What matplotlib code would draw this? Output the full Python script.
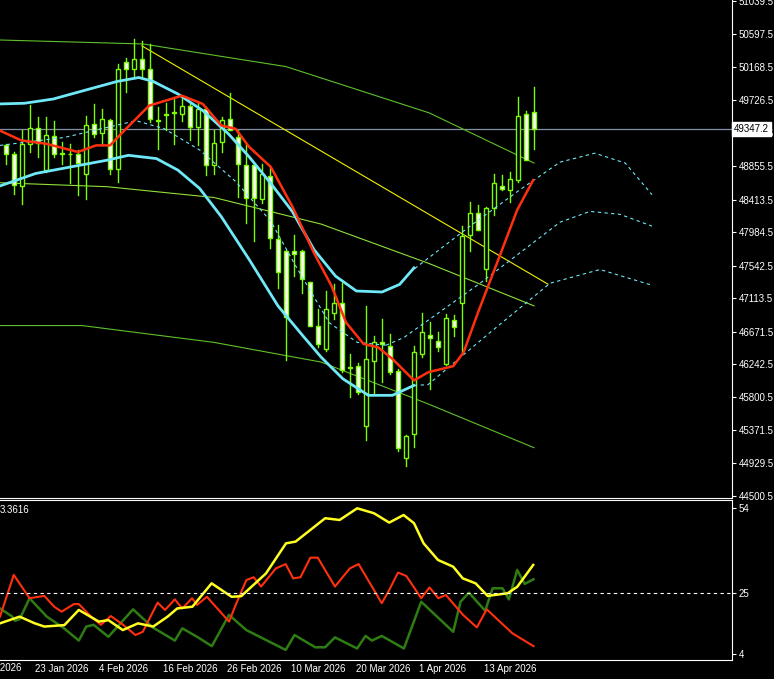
import matplotlib
matplotlib.use("Agg")
import matplotlib.pyplot as plt
from matplotlib.patches import Rectangle

plt.rcParams['font.family'] = ['Liberation Sans', 'DejaVu Sans']

# ---------------- data ----------------
opens  = [49128,49010,48591,49150,49356,48801,49251,49028,49019,49010,48757,49413,49290,49465,48823,50230,50134,50265,50134,49465,
          49544,49565,49544,49653,49369,49609,48866,49172,49478,49238,48866,48866,48416,48722,47892,47730,47739,47739,47328,46738,
          46441,46922,47044,46209,46214,45427,46288,46529,46485,46148,45008,45314,46376,46625,46542,46244,46826,47053,47949,48233,
          47490,48298,48591,48539,48670,49544,49574]
highs  = [49150,49041,49325,49666,49500,49509,49456,49172,49150,49063,49522,49675,49609,49478,50199,50287,50527,50505,50461,49631,
          49684,49762,49762,49697,49697,49631,49325,49509,49815,49325,49150,48888,48888,48844,48080,47752,47949,47752,47330,46965,
          47206,47293,47315,46376,46253,47009,46616,46834,46638,46179,45305,46485,46922,46791,46660,46900,46887,48058,48386,48342,
          48320,48757,48735,48779,49771,49587,49893]
lows   = [48888,48486,48355,49041,48976,48779,48976,48888,48626,48473,48416,49238,49128,48757,48648,49828,50024,50024,49434,49085,
          49325,49150,49456,49194,49128,48735,48757,49041,49325,48451,48110,47861,48364,47774,47249,46297,47402,47184,46740,46463,
          46419,46834,46135,45807,45851,45240,45851,46004,46113,45095,44890,45152,46332,45917,46419,46223,46616,46376,47730,48014,
          47337,48211,48539,48386,48648,48932,49085]
closes = [49010,48604,49150,49356,49163,49268,49019,49019,49010,48901,49399,49281,49478,48823,50134,50134,50265,50134,49478,49456,
          49531,49560,49653,49369,49609,48866,49159,49465,49334,48888,48438,48438,48757,47905,47455,46869,47700,47367,46747,46507,
          46965,47053,46170,46187,45873,46310,46529,46507,46135,45139,45296,46397,46660,46581,46463,46856,46725,47935,48233,48014,
          48298,48626,48547,48678,49522,48932,49347]

ma_x = [-0.8,1.9,5.0,9.0,11.25,13.0,14.8,17.9,20.6,22.0,24.6,26.9,28.7,30.4,33.1,35.8,38.5,40.7,42.5,44.7,46.5,48.3,51.0,52.8,55.9,57.2,59.0,61.7,63.9,65.9]
ma_y = [49325,49194,49150,49041,49128,49128,49325,49653,49740,49784,49675,49391,49347,49107,48844,48320,47708,47271,46791,46507,46463,46310,46026,46135,46214,46397,46922,47665,48276,48670]

up_x = [-0.8,2.3,5.9,10.4,13.9,16.6,18.4,21.5,24.6,27.8,30.4,33.1,35.8,38.5,41.2,43.8,47.0,49.2,51.0]
up_y = [49675,49684,49740,49871,49972,50024,49972,49806,49587,49281,48976,48626,48254,47752,47402,47206,47193,47293,47511]
lo_x = [-0.8,3.7,8.1,12.6,15.3,18.8,21.5,24.2,26.9,30.4,34.0,37.1,39.4,42.1,45.3,48.3,51.0]
lo_y = [48591,48757,48844,48932,48997,48954,48801,48560,48189,47621,47009,46616,46332,46048,45829,45829,45960]
mid_x = [-0.75,7.25,16.25,19.75,24.25,28.75,33.1,36.25,40.4,43.9,47.5]
mid_y = [49128,49232,49454,49350,49064,48647,48127,47530,46788,46528,46490]

fut_up_x = [51.1,58.0,64.25,69.25,73.6,77.4,80.75]
fut_up_y = [47503,48062,48543,48907,49025,48895,48478]
fut_mid_x = [47.5,49.75,59.25,69.25,73.0,76.75,80.75]
fut_mid_y = [46490,46593,47308,48114,48257,48218,48063]
fut_lo_x = [51.0,52.75,60.5,68.0,74.25,80.75]
fut_lo_y = [45960,45970,46658,47308,47490,47282]

ch_x = [-0.75,17.1,35.0,52.9,66.0]
ch_top = [50519,50467,50168,49557,48895]
ch2_x = [-0.75,12.6,26.0,39.4,52.9,66.0]
ch_mid = [48635,48583,48440,48089,47568,47010]
ch3_x = [-0.75,9.5,26.0,39.4,52.9,66.0]
ch_low = [46750,46750,46528,46268,45710,45138]

trend_x = [17.0,67.75]
trend_y = [50441,47296]

last_price = 49347.2
price_ticks = [44500.5,44929.5,45371.5,45800.5,46242.5,46671.5,47113.5,47542.5,47984.5,48413.5,48855.5,49297.5,49726.5,50168.5,50597.5,51039.5]

yel_x = [-0.75,1.7,3.6,4.8,7.3,9.1,11.6,12.8,14.6,16.5,18.4,20.2,21.4,23.3,25.7,28.2,29.4,32.5,35,36.2,39.9,41.7,43.9,46,47.9,49.7,51,52.2,54,55.9,57.1,58.7,60.2,62.7,63.9,65.9]
yel_y = [14.5,16.8,14.5,13.4,13.9,19.1,15.1,15.6,12.2,14.5,13.4,16.8,19.6,20.2,28.2,23.6,23.8,31.6,41.9,42.5,50.5,49.9,53.9,52.2,49,51.6,48.8,41.9,36.2,33.9,29.9,28.2,23.9,24.8,27,34.5]
red_x = [-0.75,0.97,2.94,4.79,6.02,6.95,8.49,9.1,10.64,11.87,13.1,14.64,16.18,17.1,18.95,19.88,21.11,22.03,23.26,23.88,25.11,27.88,28.8,30.04,30.96,31.89,33.73,34.96,35.89,36.81,38.04,38.97,41.12,42.97,44.08,46.97,47.9,49.0,50.05,51.9,52.94,54.05,54.98,57.13,58.86,60.09,63.29,65.94]
red_y = [16.8,31.1,23.1,23.9,20.2,18.5,21.1,21.1,16.8,14.0,17.0,14.0,10.5,11.6,21.6,19.1,22.7,19.6,23.1,20.8,23.6,15.1,21.4,29.3,30.3,27.1,33.3,34.8,29.9,30.3,37.0,37.0,27.1,33.3,34.8,21.4,25.9,31.9,30.7,23.1,26.8,23.1,24.2,17.4,13.1,19.3,11.1,6.7]
grn_x = [-0.75,0.79,1.1,1.71,2.94,5.1,7.26,9.1,10.03,10.95,12.8,15.88,18.34,21.11,22.03,23.88,25.73,27.88,30.04,32.5,34.96,36.07,38.66,39.89,41.12,43.89,44.94,45.74,46.97,49.74,51.9,55.9,56.82,57.87,59.9,60.83,62.06,62.86,63.9,64.83,65.94]
grn_y = [19.6,16.8,15.4,15.9,23.1,16.8,12.8,8.6,13.4,14.0,9.9,19.3,13.1,8.6,12.8,9.9,6.7,17.4,12.2,8.8,5.4,10.5,6.3,6.3,9.7,5.9,10.2,8.6,10.2,5.9,21.9,11.6,21.9,25.0,18.8,26.5,26.5,22.7,32.8,28.0,29.6]

date_pos = [7.0,14.75,23.0,31.1,39.0,47.1,54.6,63.0]
date_lbl = ["23 Jan 2026","4 Feb 2026","16 Feb 2026","26 Feb 2026","10 Mar 2026","20 Mar 2026","1 Apr 2026","13 Apr 2026"]
first_date_lbl = "13 Jan 2026"

# ---------------- figure ----------------
W, H = 774, 679
fig = plt.figure(figsize=(W/100, H/100), dpi=100, facecolor="black")
ax = fig.add_axes([0, (H-498)/H, 732/W, 498/H], facecolor="black")
ax2 = fig.add_axes([0, 19/H, 732/W, 160/H], facecolor="black")
XL = (-0.75, 90.75)
GREEN = "#7CFC00"
YL = (44474, 51047)

for i,(o,h,l,c) in enumerate(zip(opens,highs,lows,closes)):
    ax.plot([i,i],[l,h],color=GREEN,lw=1,zorder=3)
    bot, top = min(o,c), max(o,c)
    fc = "white" if c < o else "black"
    ax.add_patch(Rectangle((i-0.27,bot),0.54,max(top-bot,8),facecolor=fc,edgecolor=GREEN,lw=1,zorder=4))

ax.plot(ch_x, ch_top, color="#5fc02a", lw=0.8, zorder=2)
ax.plot(ch2_x, ch_mid, color="#8fe03a", lw=0.8, zorder=2)
ax.plot(ch3_x, ch_low, color="#5fc02a", lw=0.8, zorder=2)
ax.plot(trend_x, trend_y, color="#f0f000", lw=0.8, zorder=2)
ax.plot(up_x, up_y, color="#6fe8f8", lw=2, zorder=5)
ax.plot(lo_x, lo_y, color="#6fe8f8", lw=2, zorder=5)
for xs,ys in [(mid_x,mid_y),(fut_up_x,fut_up_y),(fut_mid_x,fut_mid_y),(fut_lo_x,fut_lo_y)]:
    ax.plot(xs, ys, color="#6fe8f8", lw=0.8, ls=(0,(3,3)), zorder=5)
ax.plot(ma_x, ma_y, color="#ff3010", lw=1.8, zorder=6)
ax.axhline(last_price, color="#8090a8", lw=0.9, zorder=1)

ax.yaxis.tick_right()
ax.set_yticks(price_ticks)
ax.set_yticklabels([f"{v:.1f}" for v in price_ticks])
ax.tick_params(axis="y", colors="white", labelsize=7, length=3, pad=2)
ax.set_xticks([])
ax.set_xlim(*XL)
ax.set_ylim(*YL)
for s in ["left","top"]:
    ax.spines[s].set_visible(False)
for s in ["right","bottom"]:
    ax.spines[s].set_color("white")
ax.text(1.003, (last_price-YL[0])/(YL[1]-YL[0]), f"{last_price:.1f}", transform=ax.transAxes,
        ha="left", va="center", fontsize=7, color="black", zorder=10, clip_on=False,
        bbox=dict(boxstyle="square,pad=0.2", fc="white", ec="white"))

ax2.plot(grn_x, grn_y, color="#2e7d12", lw=1.8)
ax2.plot(red_x, red_y, color="#ff3010", lw=1.5)
ax2.plot(yel_x, yel_y, color="#ffff20", lw=1.8)
ax2.axhline(25, color="white", lw=0.8, ls=(0,(3,3)))
ax2.yaxis.tick_right()
ax2.set_yticks([4,25,54])
ax2.tick_params(axis="y", colors="white", labelsize=7, length=3, pad=2)
ax2.set_xticks(date_pos)
ax2.set_xticklabels(date_lbl)
ax2.tick_params(axis="x", colors="white", labelsize=7, length=0, pad=3)
ax2.set_xlim(*XL)
ax2.set_ylim(1.95, 56.74)
ax2.spines["left"].set_visible(False)
for s in ["right","top","bottom"]:
    ax2.spines[s].set_color("white")
fig.text(22/W, 1-668/H, first_date_lbl, color="white", fontsize=7, ha="right", va="center")
fig.text(0, 1-510/H, "3.3616", color="white", fontsize=7, ha="left", va="center")

fig.savefig("out.png", dpi=100, facecolor="black")
